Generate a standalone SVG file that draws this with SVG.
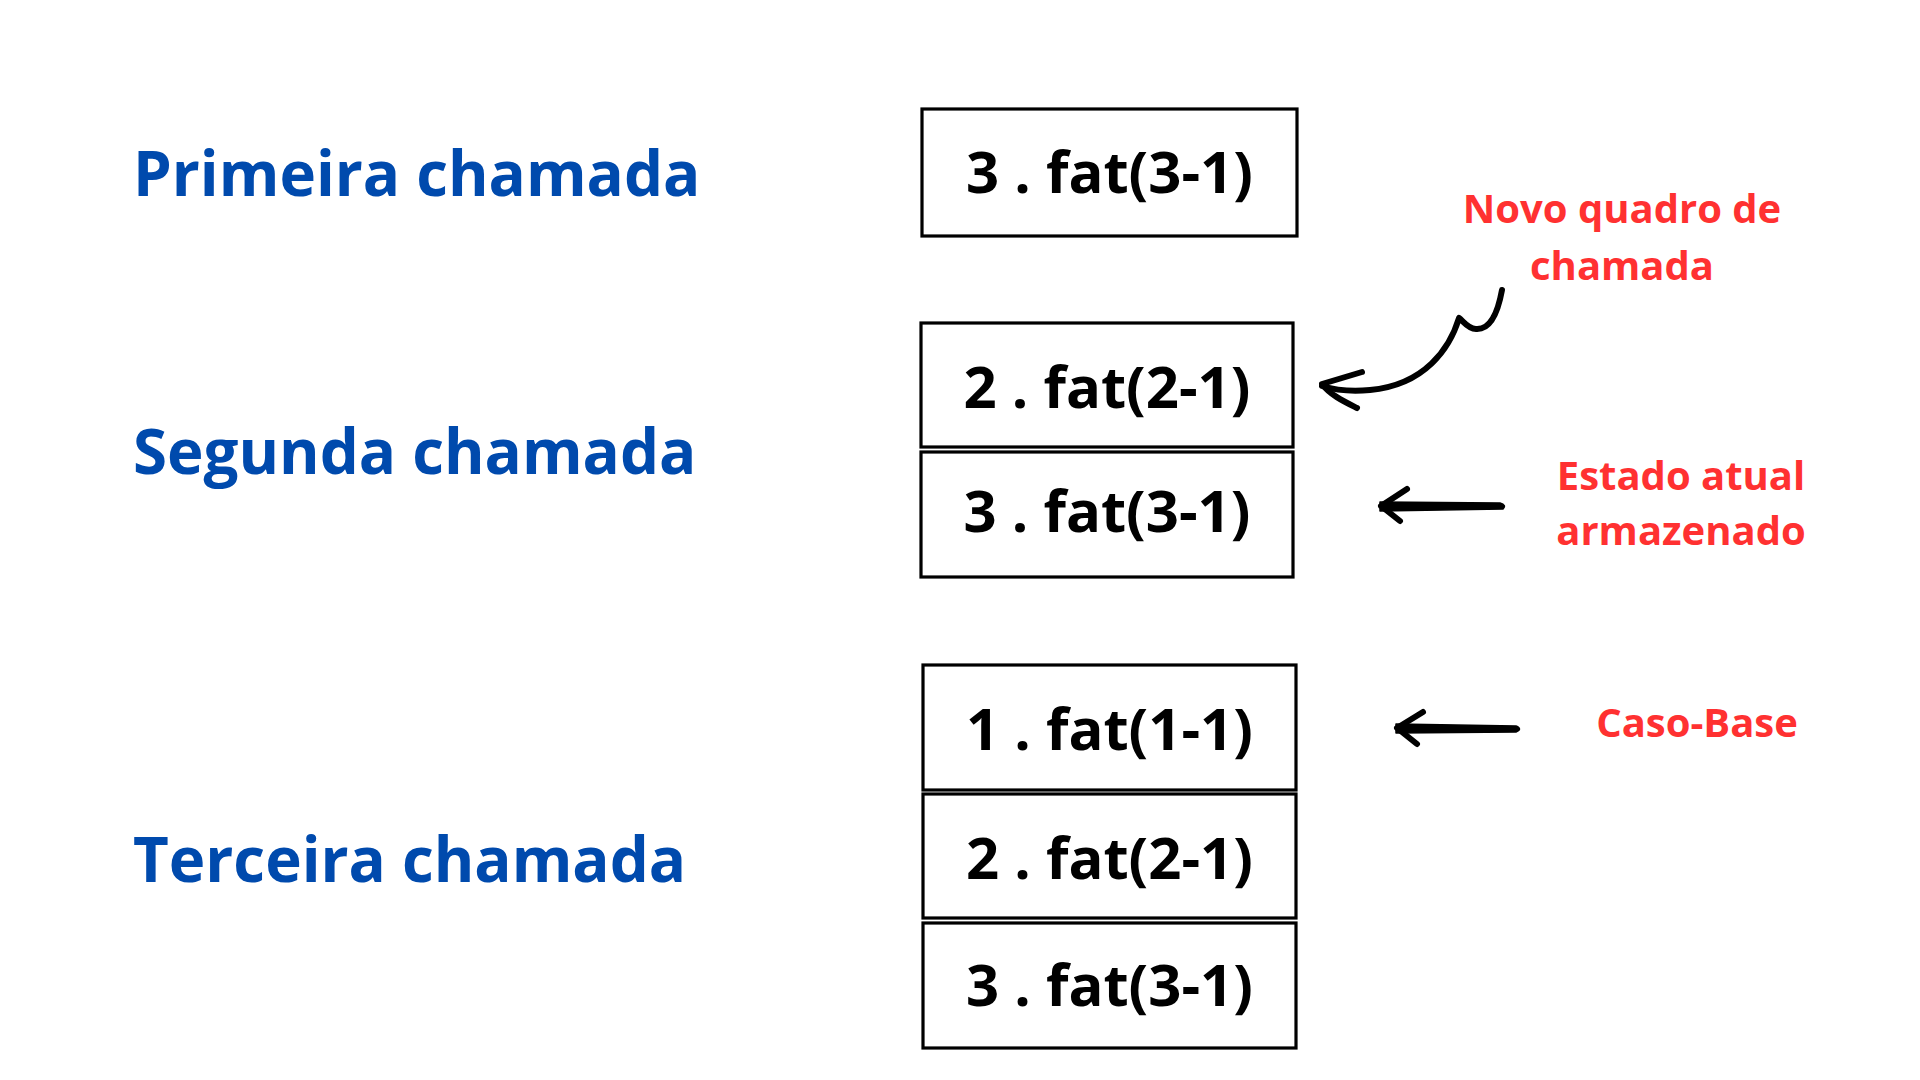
<svg xmlns="http://www.w3.org/2000/svg" width="1920" height="1080" viewBox="0 0 1920 1080">
<style>
.box{fill:#fff;stroke:#000;stroke-width:3.2}
.bt{font-family:"Open Sans","Liberation Sans",sans-serif;font-weight:700;font-size:58px;fill:#000;text-anchor:middle}
.lbl{font-family:"Open Sans","Liberation Sans",sans-serif;font-weight:700;font-size:61.8px;fill:#004AAD}
.note{font-family:"Open Sans","Liberation Sans",sans-serif;font-weight:700;font-size:40px;fill:#FF3131;text-anchor:middle}
.stroke{fill:none;stroke:#000;stroke-width:6;stroke-linecap:round;stroke-linejoin:round}
</style>
<rect width="1920" height="1080" fill="#fff"/>
<g id="label-primeira"><text class="lbl" x="133" y="196">Primeira chamada</text></g>
<g id="label-segunda"><text class="lbl" x="133" y="474">Segunda chamada</text></g>
<g id="label-terceira"><text class="lbl" x="133" y="882">Terceira chamada</text></g>

<g id="frame1-3">
<rect class="box" x="922" y="109" width="375" height="127"/>
<text class="bt" x="1109.5" y="193">3 . fat(3-1)</text>
</g>
<g id="frame2-2">
<rect class="box" x="921" y="323" width="372" height="124"/>
<text class="bt" x="1107" y="408">2 . fat(2-1)</text>
</g>
<g id="frame2-3">
<rect class="box" x="921" y="452" width="372" height="125"/>
<text class="bt" x="1107" y="532">3 . fat(3-1)</text>
</g>
<g id="frame3-1">
<rect class="box" x="923" y="665" width="373" height="125"/>
<text class="bt" x="1109.5" y="750">1 . fat(1-1)</text>
</g>
<g id="frame3-2">
<rect class="box" x="923" y="794" width="373" height="124"/>
<text class="bt" x="1109.5" y="879">2 . fat(2-1)</text>
</g>
<g id="frame3-3">
<rect class="box" x="923" y="923" width="373" height="125"/>
<text class="bt" x="1109.5" y="1006">3 . fat(3-1)</text>
</g>

<g id="note-novo"><text class="note"><tspan x="1622" y="223">Novo quadro de</tspan><tspan x="1622" y="280">chamada</tspan></text></g>
<g id="note-estado"><text class="note"><tspan x="1681" y="490">Estado atual</tspan><tspan x="1681" y="545">armazenado</tspan></text></g>
<g id="note-caso"><text class="note" x="1697" y="737">Caso-Base</text></g>

<g id="connectors">
<path class="stroke" d="M1502,290 C1498,312 1490,330 1476,329 C1468,329 1463,321 1459,318 C1450,348 1425,385 1370,390 C1350,392 1335,390 1322,386"/>
<path class="stroke" d="M1362,372 L1322,384 C1330,395 1345,402 1357,408"/>
<path d="M1380,502 L1500,503 Q1507,505 1503,509 L1380,511 Z" fill="#000" stroke="#000" stroke-width="1.5" stroke-linejoin="round"/>
<path class="stroke" d="M1407,489 L1381,506 L1400,521"/>
<path d="M1396,724 L1516,726 Q1523,729 1516,732 L1396,733 Z" fill="#000" stroke="#000" stroke-width="1.5" stroke-linejoin="round"/>
<path class="stroke" d="M1423,712 L1397,728 L1417,744"/>
</g>
</svg>
